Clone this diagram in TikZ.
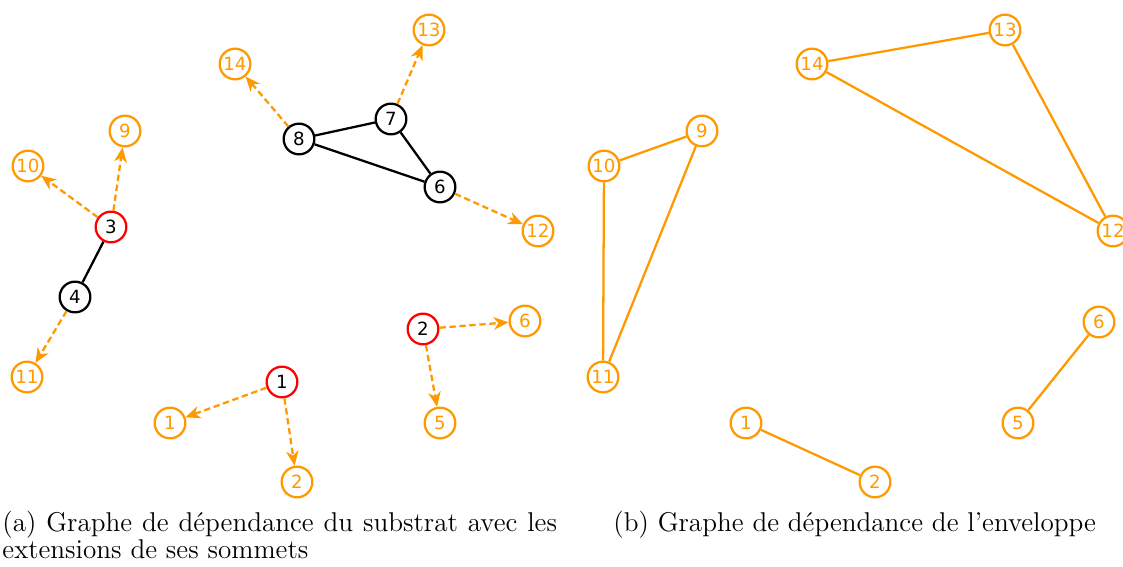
\documentclass[tikz,border=0pt]{standalone}
\usepackage{fontspec}
\newfontfamily\nodefont{DejaVu Sans}
\usetikzlibrary{arrows.meta}
\definecolor{orng}{RGB}{255,153,0}
\tikzset{
  vtx/.style={circle, draw, line width=1pt, minimum size=13.5pt, inner sep=0pt, font=\nodefont\fontsize{8}{9}\selectfont, fill=white},
  sub/.style={vtx, draw=black, text=black},
  subred/.style={vtx, draw=red, text=black},
  ext/.style={vtx, draw=orng, text=orng},
  edge/.style={line width=1pt, black},
  extarr/.style={line width=1pt, orng, dash pattern=on 2.8pt off 1.6pt, -{Stealth[length=6.5pt,width=5.5pt,inset=2pt]}},
  env/.style={line width=1pt, orng},
  captext/.style={anchor=base west, inner sep=0pt, font=\fontsize{11.95}{14}\selectfont},
}
\begin{document}
\begin{tikzpicture}[x=0.44pt,y=-0.44pt]
\useasboundingbox (0,0) rectangle (1123,567);
% left graph
\node[subred] (a3) at (111,227) {3};
\node[sub] (a4) at (75,297) {4};
\node[ext] (a9) at (125,131) {9};
\node[ext] (a10) at (28,166) {10};
\node[ext] (a11) at (27,377) {11};
\node[sub] (a8) at (299,139) {8};
\node[sub] (a7) at (391,119) {7};
\node[sub] (a6) at (440,187) {6};
\node[ext] (a14) at (235,64) {14};
\node[ext] (a13) at (429,30) {13};
\node[ext] (a12) at (538,231) {12};
\node[subred] (a2) at (423,329) {2};
\node[ext] (a6o) at (525,321) {6};
\node[ext] (a5o) at (440,423) {5};
\node[subred] (a1) at (282,382) {1};
\node[ext] (a1o) at (170,423) {1};
\node[ext] (a2o) at (297,482) {2};
\draw[edge] (a3) -- (a4);
\draw[edge] (a8) -- (a7);
\draw[edge] (a7) -- (a6);
\draw[edge] (a8) -- (a6);
\draw[extarr] (a3) -- (a9);
\draw[extarr] (a3) -- (a10);
\draw[extarr] (a4) -- (a11);
\draw[extarr] (a8) -- (a14);
\draw[extarr] (a7) -- (a13);
\draw[extarr] (a6) -- (a12);
\draw[extarr] (a2) -- (a6o);
\draw[extarr] (a2) -- (a5o);
\draw[extarr] (a1) -- (a1o);
\draw[extarr] (a1) -- (a2o);
% right graph
\node[ext] (b14) at (812,64) {14};
\node[ext] (b13) at (1005,30) {13};
\node[ext] (b12) at (1113,231) {12};
\node[ext] (b10) at (604,166) {10};
\node[ext] (b9) at (702,131) {9};
\node[ext] (b11) at (603,377) {11};
\node[ext] (b6) at (1099,322) {6};
\node[ext] (b5) at (1018,423) {5};
\node[ext] (b1) at (746,423) {1};
\node[ext] (b2) at (875,482) {2};
\draw[env] (b14) -- (b13);
\draw[env] (b13) -- (b12);
\draw[env] (b14) -- (b12);
\draw[env] (b10) -- (b9);
\draw[env] (b9) -- (b11);
\draw[env] (b10) -- (b11);
\draw[env] (b6) -- (b5);
\draw[env] (b1) -- (b2);
% captions
\node[captext] (capa1) at (2,531) {\makebox[244pt][s]{(a) Graphe de dépendance du substrat avec les}};
\node[captext] (capa2) at (2,558) {extensions de ses sommets};
\node[captext] (capb) at (613,531) {(b) Graphe de dépendance de l’enveloppe};
\end{tikzpicture}
\end{document}
